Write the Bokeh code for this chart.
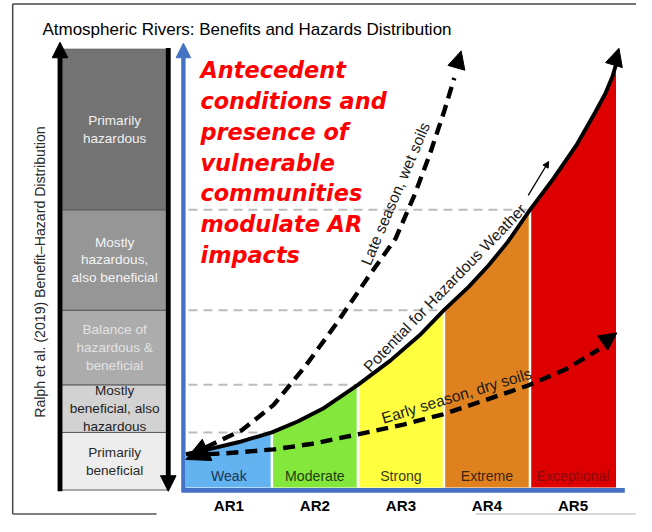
import math
from bokeh.plotting import figure
from bokeh.models import Range1d, Arrow, NormalHead
from bokeh.core.properties import value
from bokeh.embed import file_html
from bokeh.resources import INLINE

# ---------------- data ----------------
categories = ["AR1", "AR2", "AR3", "AR4", "AR5"]
intensity = ["Weak", "Moderate", "Strong", "Extreme", "Exceptional"]
bar_colors = ["#62b3f0", "#84e83c", "#ffff40", "#e0811f", "#dc0000"]
label_colors = ["#1d3550", "#1e3d12", "#3a3a14", "#3d2410", "#8a0a12"]

# hazard level where the curve crosses each category boundary (AR1|AR2 ... AR4|AR5)
boundary_level = [12.6, 23.5, 40.6, 63.6]

# "Potential for Hazardous Weather" curve (x: AR scale 0..5, y: hazard level 0..100)
pot_x = [0.0, 0.26, 0.62, 1.0, 1.30, 1.59, 2.0, 2.38, 2.72, 3.0, 3.29, 3.52, 3.74,
         4.0, 4.27, 4.54, 4.76, 4.88, 4.96, 5.0]
pot_y = [7.6, 8.7, 10.4, 12.6, 15.1, 18.0, 23.5, 29.1, 34.9, 40.6, 46.0, 50.9, 56.2,
         63.6, 70.7, 78.4, 86.0, 90.4, 94.2, 96.9]
pot_tip = (5.034, 100.6)

# Late season, wet soils
late_x = [0.03, 0.65, 1.02, 1.39, 1.76, 2.12, 2.44, 2.66, 2.83, 3.0, 3.12]
late_y = [7.3, 13.1, 18.9, 27.8, 37.8, 48.2, 57.1, 67.1, 76.0, 86.0, 93.8]
late_tip = (3.2, 100.0)

# Early season, dry soils
early_x = [0.03, 0.45, 1.02, 1.47, 1.96, 2.53, 2.98, 3.48, 3.97, 4.42, 4.80]
early_y = [7.4, 7.8, 8.7, 10.0, 12.0, 14.4, 16.7, 20.0, 23.3, 27.1, 31.6]
early_tip = (5.01, 35.4)

# Ralph et al. (2019) benefit-hazard bands (bottom to top)
band_labels = ["Primarily\nbeneficial", "Mostly\nbeneficial, also\nhazardous",
               "Balance of\nhazardous &\nbeneficial", "Mostly\nhazardous,\nalso beneficial",
               "Primarily\nhazardous"]
band_colors = ["#ededed", "#d2d2d2", "#acacac", "#969696", "#737373"]
band_text_colors = ["#2a2a2a", "#1e1e1e", "#e2e2e2", "#f4f4f4", "#f0f0f0"]
band_edges = [-0.6] + boundary_level + [100.4]

title = "Atmospheric Rivers:  Benefits and Hazards Distribution"
side_label = "Ralph et al. (2019) Benefit\u2013Hazard Distribution"
red_lines = ["Antecedent", "conditions and", "presence of", "vulnerable",
             "communities", "modulate AR", "impacts"]

# ---------------- layout ----------------
# the whole 652x532 design is drawn into a 636x516 canvas (fits the 8px page margin)
REF_W, REF_H = 652, 532
W, H = 636, 516
S = (W / REF_W + H / REF_H) / 2          # size scale for fonts / widths
fs = lambda v: f"{v * S:.1f}px"
X0PX, XPPU = 190.0, 88.2      # design pixel of AR-scale 0, pixels per category
Y0PX, YPPU = 502.0, 4.5       # design pixel of hazard level 0, pixels per level unit
ux = lambda px: (px - X0PX) / XPPU
ly = lambda py: (Y0PX - py) / YPPU

p = figure(width=W, height=H, x_range=Range1d(ux(0), ux(REF_W)),
           y_range=Range1d(ly(REF_H), ly(0)), min_border=0,
           toolbar_location=None, output_backend="svg",
           x_axis_type=None, y_axis_type=None)
p.outline_line_color = None
p.xgrid.visible = False
p.ygrid.visible = False
p.background_fill_color = "white"
p.border_fill_color = "white"
p.extra_x_ranges = {"px": Range1d(0, REF_W)}
p.extra_y_ranges = {"py": Range1d(REF_H, 0)}

ARIAL = value("Liberation Sans")
BLUE = "#4472c4"
PX = dict(x_range_name="px", y_range_name="py")

# outer frame
p.segment(x0=[12.5, 12.5, 12.5, 487], y0=[3.5, 3.5, 529.5, 529.5],
          x1=[12.5, REF_W, 160, REF_W], y1=[529.5, 3.5, 529.5, 529.5],
          line_color=["#444444", "#444444", "#555555", "#cccccc"],
          line_width=1.5, **PX)

# title
p.text(x=[43], y=[30], text=[title], text_font=ARIAL, text_font_size=fs(17.5),
       text_color="black", text_baseline="alphabetic", **PX)

# side label
p.text(x=[41], y=[280], text=[side_label], text_font=ARIAL, text_font_size=fs(14.5),
       text_color="#2a2a2a", angle=math.pi / 2, text_align="center", text_baseline="middle",
       **PX)

# benefit-hazard column
COL_L, COL_R, COL_C = 62, 172, 117
p.quad(left=COL_L, right=COL_R, bottom=band_edges[:-1], top=band_edges[1:],
       fill_color=band_colors, line_color="#5a5a5a", line_width=1, x_range_name="px")
mids = [(a + b) / 2 for a, b in zip(band_edges[:-1], band_edges[1:])]
p.text(x=[COL_C] * len(band_labels), y=mids, text=band_labels, text_font=ARIAL,
       text_font_size=fs(14), text_color=band_text_colors, text_align="center",
       text_baseline="middle", text_line_height=1.18, x_range_name="px")

p.add_layout(Arrow(end=NormalHead(size=16 * S, fill_color="black", line_color="black"),
                   x_start=61, y_start=506, x_end=61, y_end=43, line_color="black",
                   line_width=5 * S, **PX))
p.add_layout(Arrow(end=NormalHead(size=16 * S, fill_color="black", line_color="black"),
                   x_start=172, y_start=49, x_end=172, y_end=506, line_color="black",
                   line_width=5 * S, **PX))

# grey dashed guide lines at category boundaries
p.segment(x0=[0.03] * 4, y0=boundary_level, x1=list(range(1, 5)), y1=boundary_level,
          line_color="#bcbcbc", line_width=2, line_dash="9 6")

# bars filled beneath the curve
for i in range(5):
    xs = [x for x in pot_x if i <= x <= i + 1]
    ys = [y for x, y in zip(pot_x, pot_y) if i <= x <= i + 1]
    p.varea(x=xs, y1=[0] * len(xs), y2=ys, fill_color=bar_colors[i])
# white separators
p.segment(x0=list(range(1, 5)), y0=[0] * 4, x1=list(range(1, 5)), y1=boundary_level,
          line_color="white", line_width=2.5)

# blue axes
p.segment(x0=[186], y0=[505], x1=[640], y1=[505], line_color=BLUE, line_width=5 * S, **PX)
p.add_layout(Arrow(end=NormalHead(size=15 * S, fill_color=BLUE, line_color=BLUE),
                   x_start=187.5, y_start=507, x_end=187.5, y_end=44, line_color=BLUE,
                   line_width=4.5 * S, **PX))

# curves
p.line(pot_x, pot_y, line_color="black", line_width=4 * S)
p.line(late_x, late_y, line_color="black", line_width=4.5 * S, line_dash="12 7")
p.line(early_x, early_y, line_color="black", line_width=4.5 * S, line_dash="12 7")

def head(x0, y0, x1, y1, size):
    p.add_layout(Arrow(end=NormalHead(size=size * S, fill_color="black", line_color="black"),
                       x_start=x0, y_start=y0, x_end=x1, y_end=y1, line_alpha=0))

head(pot_x[-3], pot_y[-3], *pot_tip, size=18)
head(late_x[-2], late_y[-2], *late_tip, size=18)
head(early_x[-2], early_y[-2], *early_tip, size=18)
head(0.28, 8.9, 0.0, 6.4, size=24)

# curve labels
p.text(x=[ux(375)], y=[ly(380)], text=["Potential for Hazardous Weather"], text_font=ARIAL,
       text_font_size=fs(16), text_color="#1a1a1a", angle=math.radians(46),
       text_baseline="alphabetic")
p.add_layout(Arrow(end=NormalHead(size=6, fill_color="black", line_color="black"),
                   x_start=ux(541), y_start=ly(201), x_end=ux(562), y_end=ly(166),
                   line_color="black", line_width=1.3))
p.text(x=[ux(374)], y=[ly(272)], text=["Late season, wet soils"], text_font=ARIAL,
       text_font_size=fs(16), text_color="#1a1a1a", angle=math.radians(67),
       text_baseline="alphabetic")
p.text(x=[ux(391)], y=[ly(431)], text=["Early season, dry soils"], text_font=ARIAL,
       text_font_size=fs(16), text_color="#1a1a1a", angle=math.radians(17),
       text_baseline="alphabetic")

# bar labels
centers = [i + 0.5 for i in range(5)]
p.text(x=centers, y=[ly(490)] * 5, text=intensity, text_font=ARIAL, text_font_size=fs(14.5),
       text_color=label_colors, text_align="center", text_baseline="middle")
p.text(x=centers, y=[ly(520.5)] * 5, text=categories, text_font=ARIAL,
       text_font_size=fs(15.5), text_font_style="bold", text_color="black",
       text_align="center", text_baseline="alphabetic")

# red annotation
p.text(x=[ux(205)] * len(red_lines), y=[ly(72 + 31.7 * i) for i in range(len(red_lines))],
       text=red_lines, text_font=value("DejaVu Sans"), text_font_style="bold italic",
       text_font_size=fs(23), text_color="#ff0000", text_baseline="alphabetic")

open("out.html", "w").write(file_html(p, INLINE))
